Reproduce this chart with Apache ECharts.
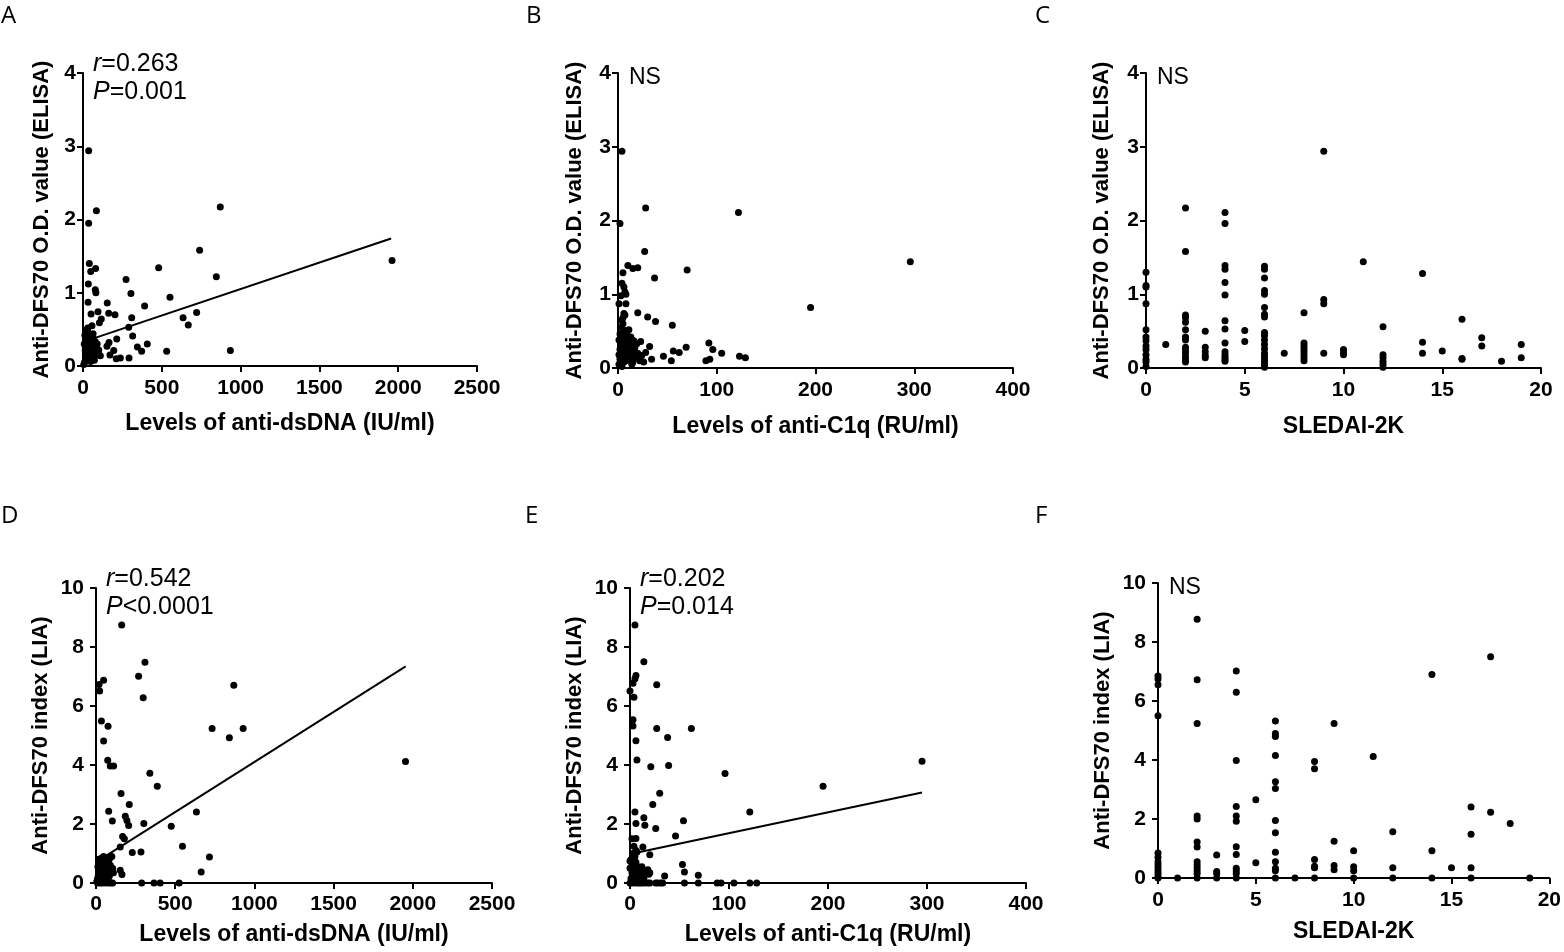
<!DOCTYPE html>
<html><head><meta charset="utf-8">
<script src="https://cdn.jsdelivr.net/npm/echarts@6/dist/echarts.min.js"></script>
<style>html,body{margin:0;padding:0;background:#fff}#c{width:1564px;height:952px}</style>
</head><body><div id="c"></div>
<script>
// ---- DATA ----
const panelLabels = ['A','B','C','D','E','F'];
const xTitles = ['Levels of anti-dsDNA (IU/ml)','Levels of anti-C1q (RU/ml)','SLEDAI-2K','Levels of anti-dsDNA (IU/ml)','Levels of anti-C1q (RU/ml)','SLEDAI-2K'];
const yTitles = ['Anti-DFS70 O.D. value (ELISA)','Anti-DFS70 O.D. value (ELISA)','Anti-DFS70 O.D. value (ELISA)','Anti-DFS70 index (LIA)','Anti-DFS70 index (LIA)','Anti-DFS70 index (LIA)'];
const xMax = [2500,400,20,2500,400,20];
const xStep = [500,100,5,500,100,5];
const yMax = [4,4,4,10,10,10];
const yStep = [1,1,1,2,2,2];
const statR = ['0.263', null, null, '0.542', '0.202', null];
const statP = ['=0.001', null, null, '<0.0001', '=0.014', null];

const ptsA = [[36,2.94],[36,1.95],[85,2.12],[871,2.17],[740,1.58],[1961,1.44],[480,1.34],[846,1.22],[273,1.18],[304,0.99],[552,0.94],[391,0.82],[154,0.86],[635,0.66],[721,0.73],[668,0.56],[935,0.21],[531,0.20],[309,0.66],[290,0.53],[315,0.41],[408,0.30],[345,0.26],[372,0.20],[292,0.11],[163,0.72],[203,0.70],[214,0.37],[165,0.32],[152,0.27],[195,0.21],[171,0.15],[211,0.10],[237,0.11],[104,0.59],[116,0.64],[95,0.74],[51,0.71],[32,0.87],[34,1.12],[40,1.40],[49,1.29],[80,1.33],[78,1.04],[82,1.00],[57,0.55],
[5,0.02],[10,0.05],[15,0.08],[20,0.12],[25,0.15],[30,0.18],[35,0.22],[40,0.25],[45,0.28],[50,0.30],[55,0.33],[60,0.35],[65,0.38],[70,0.12],[75,0.20],[80,0.15],[85,0.25],[90,0.30],[12,0.42],[18,0.48],[22,0.35],[28,0.50],[33,0.45],[38,0.40],[42,0.10],[48,0.06],[52,0.18],[58,0.26],[62,0.22],[68,0.30],[72,0.08],[78,0.33],[8,0.30],[14,0.22],[24,0.27],[34,0.32],[44,0.16],[54,0.12],[64,0.44],[74,0.27],[95,0.17],[100,0.22],[20,0.38],[30,0.52],[110,0.14]];
const fitA = [[30,0.35],[1955,1.74]];

const ptsB = [[4,2.94],[2,1.96],[28,2.17],[122,2.11],[27,1.58],[296,1.44],[70,1.33],[37,1.22],[195,0.82],[10,1.39],[15,1.35],[20,1.36],[5,1.29],[4,1.15],[7,1.03],[1,0.87],[8,0.87],[20,0.75],[30,0.69],[38,0.63],[55,0.58],[6,0.74],[5,0.68],[92,0.34],[96,0.25],[105,0.20],[123,0.16],[129,0.14],[89,0.10],[93,0.12],[69,0.28],[62,0.21],[56,0.23],[54,0.10],[46,0.16],[34,0.12],[32,0.29],[28,0.21],[23,0.36],[26,0.08],[13,0.42],[8,0.51],
[1,0.05],[2,0.12],[3,0.20],[4,0.28],[5,0.35],[6,0.42],[7,0.50],[8,0.10],[9,0.18],[10,0.25],[11,0.32],[12,0.15],[13,0.22],[14,0.30],[15,0.08],[16,0.20],[17,0.27],[18,0.14],[19,0.33],[20,0.20],[1,0.38],[2,0.46],[3,0.55],[4,0.02],[5,0.15],[6,0.24],[7,0.30],[8,0.38],[9,0.45],[3,0.32],[2,0.25],[1,0.18],[6,0.08],[10,0.12],[12,0.40],[14,0.05],[16,0.37],[22,0.10],[24,0.17],[11,0.52],[5,0.60],[4,0.65],[7,0.72],[8,1.00],[3,0.98],[6,1.10]];

const ptsC = [[0,1.30],[0,1.12],[0,1.10],[0,0.87],[0,0.52],[0,0.42],[0,0.37],[0,0.30],[0,0.25],[0,0.18],[0,0.12],[0,0.08],[0,0.02],
[1,0.32],
[2,2.17],[2,1.58],[2,0.72],[2,0.68],[2,0.62],[2,0.52],[2,0.42],[2,0.38],[2,0.28],[2,0.24],[2,0.20],[2,0.15],[2,0.12],[2,0.08],
[3,0.50],[3,0.28],[3,0.22],[3,0.17],[3,0.14],
[4,2.11],[4,1.96],[4,1.39],[4,1.34],[4,1.16],[4,0.99],[4,0.64],[4,0.53],[4,0.34],[4,0.22],[4,0.18],[4,0.15],[4,0.12],[4,0.09],
[5,0.51],[5,0.36],
[6,1.38],[6,1.34],[6,1.22],[6,1.05],[6,1.00],[6,0.82],[6,0.73],[6,0.69],[6,0.48],[6,0.44],[6,0.38],[6,0.32],[6,0.26],[6,0.20],[6,0.16],[6,0.12],[6,0.08],[6,0.04],[6,0.01],
[7,0.20],
[8,0.75],[8,0.34],[8,0.30],[8,0.26],[8,0.22],[8,0.18],[8,0.14],[8,0.10],
[9,2.94],[9,0.93],[9,0.87],[9,0.20],
[10,0.25],[10,0.21],[10,0.18],
[11,1.44],
[12,0.56],[12,0.18],[12,0.14],[12,0.09],[12,0.05],[12,0.01],
[14,1.28],[14,0.35],[14,0.20],
[15,0.23],
[16,0.66],[16,0.13],[16,0.12],
[17,0.41],[17,0.30],
[18,0.09],
[19,0.32],[19,0.14]];

const ptsD = [[162,8.75],[309,7.48],[269,7.01],[298,6.28],[870,6.70],[23,6.51],[19,6.73],[48,6.87],[34,5.49],[76,5.31],[48,4.81],[733,5.24],[929,5.24],[842,4.92],[1954,4.12],[74,4.16],[90,3.97],[111,3.97],[340,3.72],[387,3.28],[158,3.03],[210,2.66],[80,2.43],[634,2.41],[185,2.26],[195,2.12],[206,1.95],[103,2.10],[302,2.02],[475,1.92],[168,1.58],[179,1.50],[546,1.25],[153,1.22],[229,1.03],[284,1.05],[716,0.88],[664,0.37],[153,0.43],[164,0.29],
[288,0],[366,0],[405,0],[525,0],[10,0],[25,0],[40,0],[60,0],[80,0],[95,0],[105,0],
[5,0.05],[10,0.15],[15,0.30],[20,0.45],[25,0.60],[30,0.75],[35,0.85],[40,0.20],[45,0.35],[50,0.50],[55,0.65],[60,0.80],[65,0.10],[70,0.40],[75,0.55],[80,0.70],[85,0.25],[90,0.60],[95,0.45],[100,0.90],[105,0.50],[110,0.35],[12,0.55],[18,0.70],[28,0.25],[38,0.50],[48,0.90],[58,0.30],[68,0.70],[78,0.15],[88,0.85],[15,0.80],[20,0.80]];
const fitD = [[45,0.86],[1955,7.34]];

const ptsE = [[5,8.75],[14,7.50],[6,7.03],[5,6.92],[3,6.77],[0,6.51],[4,6.30],[27,6.72],[3,5.53],[3,5.32],[27,5.24],[62,5.24],[6,4.82],[38,4.93],[7,4.17],[21,3.94],[39,3.98],[96,3.71],[195,3.28],[295,4.13],[30,3.04],[23,2.66],[121,2.41],[5,2.41],[14,2.21],[15,1.96],[6,2.02],[26,1.85],[54,2.11],[46,1.59],[6,1.51],[13,1.22],[20,0.96],[7,1.05],[53,0.63],[55,0.37],[69,0.26],[35,0.24],[20,0.35],[18,0.45],
[0,0],[2,0],[5,0],[8,0],[10,0],[12,0],[15,0],[18,0],[20,0],[26,0],[28,0],[31,0],[33,0],[55,0],[69,0],[88,0],[92,0],[105,0],[121,0],[128,0],
[1,0.80],[2,0.60],[3,0.40],[4,0.20],[5,0.90],[6,0.70],[7,0.50],[8,0.30],[9,0.10],[10,0.45],[11,0.25],[12,0.55],[13,0.35],[14,0.15],[3,1.00],[5,0.30],[7,0.15],[2,0.35],[4,0.75],[6,0.45],[8,0.55],[1,0.15],[9,0.40],[15,0.30],[17,0.40],[19,0.30],[0,0.75],[0,0.50],[2,1.50],[4,1.25],[6,1.10]];
const fitE = [[5,1.02],[295,3.07]];

const ptsF = [[0,6.85],[0,6.75],[0,6.55],[0,5.50],[0,0.85],[0,0.70],[0,0.55],[0,0.45],[0,0.35],[0,0.25],[0,0.15],[0,0.05],[0,0],
[1,0],
[2,8.77],[2,6.72],[2,5.24],[2,2.10],[2,2.00],[2,1.22],[2,1.05],[2,0.55],[2,0.45],[2,0.35],[2,0.25],[2,0.15],[2,0],
[3,0.78],[3,0.22],[3,0.15],[3,0],
[4,7.02],[4,6.30],[4,3.98],[4,2.42],[4,2.10],[4,1.92],[4,1.06],[4,0.80],[4,0.33],[4,0.25],[4,0.15],[4,0],
[5,2.65],[5,0.52],
[6,5.32],[6,4.90],[6,4.80],[6,4.15],[6,3.26],[6,3.03],[6,1.95],[6,1.53],[6,0.87],[6,0.55],[6,0.33],[6,0.25],[6,0],
[7,0],
[8,3.95],[8,3.70],[8,0.63],[8,0.40],[8,0.35],[8,0],
[9,5.24],[9,1.25],[9,0.42],[9,0.28],
[10,0.92],[10,0.38],[10,0.25],[10,0],
[11,4.12],
[12,1.57],[12,0.35],[12,0],
[14,6.90],[14,0.92],[14,0],
[15,0.35],
[16,2.41],[16,1.48],[16,0.35],[16,0],
[17,7.50],[17,2.23],
[18,1.85],
[19,0]];

const panelPoints = [ptsA, ptsB, ptsC, ptsD, ptsE, ptsF];
const panelFits = [fitA, null, null, fitD, fitE, null];

// ---- LAYOUT ----
const grids = [
  {left:83,  top:73,  width:394, height:293},
  {left:618, top:73,  width:395, height:295},
  {left:1146,top:73,  width:395, height:295},
  {left:96,  top:588, width:396, height:295},
  {left:630, top:588, width:396, height:295},
  {left:1158,top:583, width:394, height:295}
];
const yLabelMargin = [7,7,7,12,12,12];
const yNameGap = [30,32,33,44,44,44];
const xNameGap = [46,47,47,40,40,42];
const xLabelMargin = [12,12,12,11,11,12];
const letterPos = [[1,4],[526,4],[1035,4],[1,504],[525,504],[1035,504]];

const FONT = '"Liberation Sans", Arial, sans-serif';
const TICK_FS = 21, TITLE_FS = 23;
const plain = v => String(v);
const xAxis = [], yAxis = [], series = [], graphic = [];
grids.forEach((g,i)=>{
  xAxis.push({gridIndex:i, type:'value', min:0, max:xMax[i], interval:xStep[i],
    name:xTitles[i], nameLocation:'middle', nameGap:xNameGap[i],
    nameTextStyle:{fontFamily:FONT, fontWeight:'bold', fontSize:TITLE_FS, color:'#000'},
    axisLine:{show:true, onZero:false, lineStyle:{color:'#000', width:2}},
    axisTick:{show:true, length:6, lineStyle:{color:'#000', width:2}},
    axisLabel:{fontFamily:FONT, fontWeight:'bold', fontSize:TICK_FS, color:'#000', margin:xLabelMargin[i], formatter:plain},
    splitLine:{show:false}});
  yAxis.push({gridIndex:i, type:'value', min:0, max:yMax[i], interval:yStep[i],
    name:yTitles[i], nameLocation:'middle', nameGap:yNameGap[i],
    nameTextStyle:{fontFamily:FONT, fontWeight:'bold', fontSize:22, color:'#000'},
    axisLine:{show:true, onZero:false, lineStyle:{color:'#000', width:2}},
    axisTick:{show:true, length:6, lineStyle:{color:'#000', width:2}},
    axisLabel:{fontFamily:FONT, fontWeight:'bold', fontSize:TICK_FS, color:'#000', margin:yLabelMargin[i], formatter:plain},
    splitLine:{show:false}});
  series.push({type:'scatter', xAxisIndex:i, yAxisIndex:i, data:panelPoints[i],
    symbol:'circle', symbolSize:7, itemStyle:{color:'#000', opacity:1}, clip:false, silent:true});
  if (panelFits[i]) {
    series.push({type:'line', xAxisIndex:i, yAxisIndex:i, data:panelFits[i],
      symbol:'none', lineStyle:{color:'#000', width:2}, silent:true});
  }
  graphic.push({type:'text', left:letterPos[i][0], top:letterPos[i][1],
    style:{text:panelLabels[i], font:'24px "Open Sans", sans-serif', fill:'#000'}});
  const tx = g.left + 10, ty = g.top - 9;
  if (statR[i]) {
    graphic.push({type:'text', x:tx, y:ty, style:{text:'{i|r}=' + statR[i],
      fontFamily:FONT, fontSize:25, fill:'#000', verticalAlign:'middle',
      rich:{i:{fontStyle:'italic', fontFamily:FONT, fontSize:25}}}});
    graphic.push({type:'text', x:tx, y:ty + 28, style:{text:'{i|P}' + statP[i],
      fontFamily:FONT, fontSize:25, fill:'#000', verticalAlign:'middle',
      rich:{i:{fontStyle:'italic', fontFamily:FONT, fontSize:25}}}});
  } else {
    graphic.push({type:'text', x:tx + 1, y:g.top + 5, style:{text:'NS',
      fontFamily:FONT, fontSize:23, fill:'#000', verticalAlign:'middle'}});
  }
});

const chart = echarts.init(document.getElementById('c'), null, {renderer:'canvas'});
chart.setOption({animation:false, backgroundColor:'#fff',
  grid: grids.map(g=>Object.assign({containLabel:false}, g)),
  xAxis, yAxis, series, graphic});
</script></body></html>
